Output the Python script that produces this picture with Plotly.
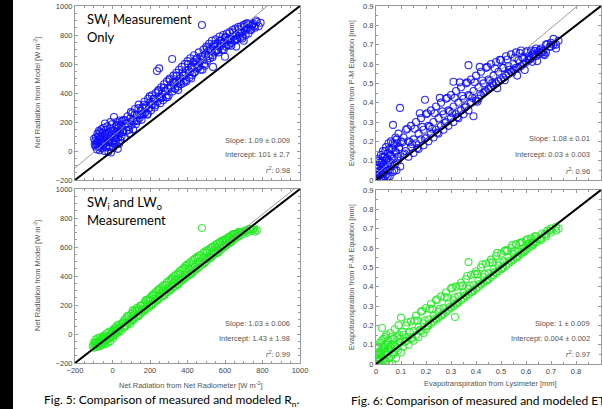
import plotly.graph_objects as go

W, H = 602, 409

# ---------------- data ----------------
# Panel A: Rn, SW_i measurement only (blue)
a_x = [-95,-92,-90,-88,-85,-82,-80,-78,-75,-72,-70,-68,-65,-62,-60,-58,-55,-52,-50,-48,
       -45,-42,-40,-38,-35,-32,-30,-28,-25,-22,-20,-18,-15,-12,-10,-8,-5,-2,0,3,
       5,8,10,12,15,18,20,22,25,28,30,33,35,38,40,42,45,48,
       55,60,65,70,75,80,85,90,95,100,105,110,115,120,125,130,135,140,145,150,
       155,160,165,170,175,180,185,190,195,200,205,210,215,220,225,230,
       237,240,245,249,
       250,255,260,265,270,275,280,285,290,295,300,305,310,
       318,
       320,325,330,335,340,345,350,355,360,365,370,375,380,385,390,395,400,405,410,415,
       420,425,430,435,440,445,450,455,460,465,470,
       477,
       480,485,490,495,500,505,510,515,520,525,530,535,540,545,550,555,560,565,570,575,
       580,585,590,595,600,605,610,615,620,625,630,635,640,645,650,655,660,665,670,675,
       680,685,690,695,700,705,710,715,720,725,730,
       740,750,760,770,780,790,
       536,600,660,700,480,420,350]
a_y = [45,70,30,95,55,10,120,65,35,140,80,5,100,50,150,20,85,125,40,160,
       70,0,110,55,145,25,90,170,60,-5,130,80,30,155,100,-10,60,185,120,20,
       90,234,140,45,110,170,65,200,130,15,95,160,50,210,125,75,180,100,
       130,215,95,190,140,240,165,120,225,180,260,150,205,290,185,250,210,320,230,280,
       215,300,255,340,265,310,250,360,295,335,280,385,320,360,300,400,
       552,340,420,570,
       375,330,440,395,350,460,410,370,480,430,385,500,450,
       634,
       410,520,470,430,540,485,445,560,500,460,580,520,470,600,540,490,620,560,505,640,
       575,525,610,660,545,600,640,570,680,615,560,
       869,
       650,700,600,665,720,625,690,740,640,705,760,660,720,680,770,700,740,680,790,725,
       760,700,800,745,780,720,810,760,730,820,770,745,835,790,760,845,800,770,855,810,
       780,860,820,790,870,830,800,880,845,810,870,
       835,880,850,890,860,885,
       580,650,720,760,560,500,420]
a_x_more = [-98,-86,-76,-66,-56,-46,-36,-26,-16,-6,4,14,24,34,44,-70,-40,-10,20,50,
            58,68,78,88,98,108,118,128,138,148,158,168,178,188,198,208,218,228,
            243,253,263,273,283,293,303,313,323,333,343,353,363,373,383,393,403,413,423,433,
            443,453,463,473,483,493,503,513,523,533,543,553,563,573,583,593,603,613,623,633,
            643,653,663,673,683,693,703,713,723,735,745,755,765]
a_y_more = [85,40,100,130,60,95,30,115,65,140,55,75,180,120,150,25,190,200,95,205,
            144,210,191,147,268,214,250,206,296,247,253,319,300,256,377,323,359,315,
            411,362,368,434,414,370,491,437,473,429,520,471,477,543,523,479,600,546,582,538,
            629,580,586,652,632,588,709,655,691,647,738,689,695,761,741,697,788,734,770,726,
            817,768,774,840,820,776,857,843,879,837,870,860,900]

# Panel B: Rn, SW_i and LW_o measurement (green)
b_x = [-105,-100,-98,-95,-92,-90,-88,-85,-82,-80,-78,-75,-72,-70,-68,-65,-62,-60,-58,-55,
       -52,-50,-48,-45,-42,-40,-38,-35,-32,-30,-28,-25,-22,-20,-18,-15,-12,-10,-8,-5,
       -2,0,3,5,8,10,12,15,18,20,22,25,28,30,33,35,38,40,45,48,
       55,60,65,70,75,80,85,90,95,100,105,110,115,120,125,130,135,140,145,150,
       155,160,165,170,175,180,185,190,195,200,205,210,215,220,225,230,235,240,245,250,
       255,260,265,270,275,280,285,290,295,300,305,310,315,320,325,330,335,340,345,350,
       355,360,365,370,375,380,385,390,395,400,405,410,415,420,425,430,435,440,445,450,
       455,460,465,470,
       477,
       480,485,490,495,500,505,510,515,520,525,530,535,540,545,550,555,560,565,570,575,
       580,585,590,595,600,605,610,615,620,625,630,635,640,645,650,655,660,665,670,675,680,
       690,700,710,720,730,740,750,760,770]
b_y = [-85,-60,-95,-70,-40,-80,-55,-90,-65,-30,-75,-50,-85,-60,-25,-70,-45,-80,-35,-55,
       -20,-65,-40,-10,-55,-30,-70,-15,-45,5,-35,-60,-10,-30,15,-25,-50,0,-20,20,
       -15,10,-30,25,0,40,-10,20,45,5,30,60,10,40,20,65,30,50,20,70,
       75,45,100,60,110,70,125,85,70,140,95,150,100,165,115,180,125,170,135,195,
       150,200,155,215,170,230,175,240,190,250,200,265,210,275,220,290,230,300,240,310,
       250,320,260,335,270,340,285,355,290,365,300,375,310,390,325,400,330,410,345,420,
       355,435,365,445,375,455,385,470,395,480,405,490,415,500,425,510,435,520,445,530,
       455,540,465,545,
       731,
       480,560,495,570,505,575,515,585,525,595,535,600,545,610,555,620,565,625,575,635,
       585,645,595,650,605,655,615,665,625,670,635,680,645,685,655,690,665,695,670,700,680,
       705,690,715,700,725,710,720,705,715]
b_x_more = [58,68,78,88,98,108,118,128,138,148,158,168,178,188,198,208,218,228,238,248,
            258,268,278,288,298,308,318,328,338,348,358,368,378,388,398,408,418,428,438,448,
            458,468,
            483,493,503,513,523,533,543,553,563,573,583,593,603,613,623,633,643,653,663,673,683,
            695,715,735,755]
b_y_more = [86,51,122,102,92,163,138,158,124,194,174,164,235,210,230,196,266,246,237,307,
            282,302,268,338,318,309,379,354,375,340,410,390,381,451,426,447,412,482,463,453,
            523,498,
            524,489,559,540,530,600,576,596,561,632,612,602,650,648,668,633,690,684,674,705,700,
            702,713,723,729]

# Panel C: ET, SW_i measurement only (blue)
c_x = [0.0,0.002,0.005,0.005,0.008,0.01,0.01,0.012,0.015,0.015,0.018,0.02,0.02,0.022,0.025,0.025,0.028,0.03,0.03,0.032,
       0.035,0.035,0.038,0.04,0.04,0.042,0.045,0.048,0.05,0.05,0.052,0.055,0.058,0.06,0.06,0.062,0.065,0.068,0.07,0.072,
       0.075,0.078,0.08,0.082,0.085,0.088,0.09,0.092,0.096,0.098,0.1,
       0.11,0.11,0.12,0.12,0.13,0.13,0.14,0.14,0.15,0.15,0.16,0.16,0.17,0.17,0.18,0.18,0.19,0.19,
       0.196,
       0.20,0.20,0.21,0.21,0.22,0.22,0.23,0.23,0.24,0.24,0.25,0.25,0.26,0.26,0.27,0.27,0.28,0.28,0.29,0.29,0.30,0.30,
       0.31,0.31,0.31,
       0.32,0.32,0.33,0.33,0.34,0.34,0.35,0.35,0.36,0.36,
       0.37,0.37,0.37,
       0.38,0.38,0.39,0.39,0.40,0.40,0.41,0.41,0.42,0.42,0.43,0.43,0.44,0.44,0.45,0.45,0.46,0.46,0.47,0.47,
       0.48,0.48,0.49,0.49,0.50,0.50,0.51,0.51,0.52,0.52,0.53,0.53,0.54,0.54,0.55,0.55,0.56,0.56,0.57,0.57,
       0.58,0.58,0.59,0.59,0.60,0.60,0.61,0.61,0.62,0.62,0.63,0.63,0.64,0.64,0.65,0.65,0.66,0.66,0.67,0.67,
       0.68,0.68,
       0.70,0.70,0.71,0.71,0.72,0.72,0.73]
c_y = [0.01,0.04,0.0,0.08,0.02,0.06,0.11,0.0,0.03,0.09,0.05,0.13,0.01,0.07,0.03,0.1,0.15,0.05,0.0,0.08,
       0.12,0.02,0.06,0.17,0.1,0.03,0.08,0.14,0.05,0.19,0.1,0.02,0.13,0.07,0.2,0.16,0.04,0.285,0.11,0.18,
       0.08,0.22,0.14,0.05,0.19,0.1,0.24,0.16,0.373,0.12,0.2,
       0.22,0.13,0.15,0.26,0.20,0.12,0.28,0.17,0.21,0.14,0.30,0.19,0.24,0.16,0.32,0.21,0.26,0.18,
       0.415,
       0.34,0.22,0.28,0.20,0.36,0.24,0.30,0.22,0.38,0.26,0.32,0.24,0.40,0.28,0.34,0.26,0.42,0.30,0.36,0.28,0.44,0.32,
       0.508,0.38,0.30,
       0.46,0.34,0.40,0.32,0.48,0.36,0.42,0.34,0.50,0.38,
       0.594,0.44,0.36,
       0.52,0.40,0.33,0.46,0.54,0.41,0.48,0.42,0.56,0.44,0.50,0.45,0.58,0.46,0.52,0.47,0.60,0.48,0.54,0.49,
       0.61,0.50,0.56,0.51,0.62,0.52,0.58,0.53,0.64,0.54,0.59,0.55,0.65,0.56,0.60,0.57,0.66,0.58,0.62,0.58,
       0.67,0.59,0.63,0.60,0.66,0.61,0.64,0.62,0.67,0.63,0.65,0.64,0.68,0.64,0.66,0.65,0.68,0.66,0.67,0.65,
       0.70,0.66,
       0.71,0.69,0.73,0.70,0.70,0.68,0.72]
c_x_more = [0.003,0.007,0.012,0.017,0.023,0.027,0.033,0.037,0.043,0.047,0.053,0.057,0.063,0.067,0.073,0.077,0.083,0.087,0.093,0.097,
            0.105,0.115,0.125,0.135,0.145,0.155,0.165,0.175,0.185,0.195,0.205,0.215,0.225,0.235,0.245,0.255,0.265,0.275,0.285,0.295,
            0.305,0.315,0.325,0.335,0.345,0.355,0.365,0.375,0.385,0.395,0.405,0.415,0.425,0.435,0.445,0.455,0.465,0.475,0.485,0.495,
            0.505,0.515,0.525,0.535,0.545,0.555,0.565,0.575,0.585,0.595,0.605,0.615,0.625,0.635,0.645,0.655,0.665,0.675,0.685,0.695]
c_y_more = [0.06,0.03,0.1,0.04,0.09,0.12,0.04,0.15,0.11,0.02,0.16,0.09,0.12,0.19,0.05,0.15,0.21,0.12,0.17,0.07,
            0.195,0.135,0.265,0.195,0.185,0.265,0.165,0.345,0.275,0.215,0.345,0.275,0.265,0.345,0.245,0.425,0.355,0.295,0.425,0.355,
            0.345,0.425,0.325,0.505,0.435,0.375,0.505,0.435,0.425,0.505,0.405,0.585,0.515,0.455,0.585,0.513,0.501,0.578,0.475,0.622,
            0.579,0.516,0.623,0.570,0.556,0.633,0.540,0.656,0.633,0.569,0.667,0.624,0.611,0.668,0.615,0.672,0.659,0.646,0.703,0.690]

# Panel D: ET, SW_i and LW_o measurement (green)
d_x = [0.0,0.003,0.005,0.006,0.008,0.01,0.012,0.014,0.016,0.018,0.02,0.022,0.024,0.025,0.028,0.03,0.032,0.035,0.038,0.04,
       0.042,0.045,0.048,0.05,0.052,0.055,0.058,0.06,0.062,0.065,0.07,0.072,0.075,0.078,0.08,0.085,0.088,0.09,0.095,0.1,0.1,
       0.11,0.11,0.12,0.12,0.13,0.13,0.14,0.14,0.15,0.15,0.16,0.16,0.17,0.17,0.18,0.18,0.19,0.19,0.20,0.20,
       0.21,0.21,0.22,0.22,0.23,0.23,0.24,0.24,0.25,0.25,0.26,0.26,0.27,0.27,0.28,0.28,0.29,0.29,0.30,0.30,0.31,0.31,
       0.316,
       0.32,0.32,0.33,0.33,0.34,0.34,0.35,0.35,0.36,0.36,
       0.37,0.37,0.37,
       0.38,0.38,0.39,0.39,0.40,0.40,0.41,0.41,0.42,0.42,0.43,0.43,0.44,0.44,0.45,0.45,0.46,0.46,0.47,0.47,
       0.48,0.48,0.49,0.49,0.50,0.50,0.51,0.51,0.52,0.52,0.53,0.53,0.54,0.54,0.55,0.55,0.56,0.56,0.57,0.57,
       0.58,0.58,0.59,0.59,0.60,0.60,0.61,0.61,0.62,0.62,0.63,0.63,0.64,0.64,
       0.66,0.66,0.68,0.68,0.70,0.70,0.72,0.72,0.73]
d_y = [0.0,0.03,0.06,0.01,0.09,0.03,0.0,0.05,0.11,0.02,0.07,0.0,0.186,0.04,0.09,0.13,0.02,0.06,0.1,0.01,
       0.15,0.05,0.08,0.12,0.03,0.07,0.16,0.04,0.1,0.0,0.13,0.06,0.18,0.09,0.03,0.14,0.07,0.2,0.11,0.24,0.06,
       0.15,0.09,0.20,0.12,0.14,0.10,0.22,0.13,0.17,0.12,0.25,0.15,0.19,0.14,0.27,0.17,0.21,0.16,0.29,0.18,
       0.23,0.20,0.31,0.21,0.25,0.22,0.33,0.23,0.27,0.24,0.35,0.25,0.29,0.26,0.37,0.27,0.31,0.28,0.39,0.29,0.33,0.30,
       0.243,
       0.40,0.31,0.35,0.32,0.42,0.33,0.37,0.34,0.44,0.35,
       0.527,0.39,0.36,
       0.46,0.37,0.41,0.38,0.48,0.39,0.43,0.40,0.50,0.41,0.45,0.42,0.52,0.43,0.47,0.44,0.54,0.45,0.49,0.46,
       0.56,0.47,0.51,0.48,0.57,0.49,0.53,0.50,0.59,0.51,0.55,0.52,0.60,0.53,0.57,0.54,0.62,0.55,0.58,0.56,
       0.63,0.57,0.60,0.58,0.64,0.59,0.62,0.60,0.65,0.61,0.63,0.62,0.66,0.63,
       0.65,0.64,0.67,0.66,0.70,0.68,0.69,0.71,0.70]
d_x_more = [0.004,0.009,0.013,0.019,0.023,0.027,0.033,0.037,0.043,0.047,0.053,0.057,0.063,0.068,0.073,0.083,0.093,0.097,
            0.105,0.115,0.125,0.135,0.145,0.155,0.165,0.175,0.185,0.195,0.205,0.215,0.225,0.235,0.245,0.255,0.265,0.275,0.285,0.295,
            0.305,0.315,0.325,0.335,0.345,0.355,0.365,0.375,0.385,0.395,0.405,0.415,0.425,0.435,0.445,0.455,0.465,0.475,0.485,0.495,
            0.505,0.515,0.525,0.535,0.545,0.555,0.565,0.575,0.585,0.595,0.605,0.615,0.625,0.635,0.645,0.655,0.665,0.675,0.685,0.695]
d_y_more = [0.05,0.08,0.02,0.06,0.12,0.03,0.08,0.14,0.06,0.1,0.0,0.09,0.14,0.05,0.1,0.08,0.15,0.13,
            0.165,0.115,0.215,0.165,0.135,0.225,0.225,0.175,0.275,0.225,0.195,0.285,0.285,0.235,0.335,0.285,0.255,0.345,0.345,0.295,
            0.395,0.345,0.315,0.405,0.405,0.355,0.455,0.405,0.375,0.465,0.465,0.415,0.515,0.465,0.435,0.525,0.525,0.475,0.575,0.525,
            0.495,0.585,0.585,0.535,0.615,0.585,0.555,0.625,0.630,0.585,0.645,0.625,0.612,0.660,0.648,0.645,0.675,0.672,0.690,0.690]

slopes = [1.09, 1.03, 1.08, 1.0]
intercepts = [101, 1.43, 0.03, 0.004]
slope_txt = ["Slope: 1.09 ± 0.009", "Slope: 1.03 ± 0.006", "Slope: 1.08 ± 0.01", "Slope: 1 ± 0.009"]
icpt_txt = ["Intercept: 101 ± 2.7", "Intercept: 1.43 ± 1.98", "Intercept: 0.03 ± 0.003", "Intercept: 0.004 ± 0.002"]
r2_txt = ["0.98", "0.99", "0.96", "0.97"]

rn_ticks = [-200, 0, 200, 400, 600, 800, 1000]
et_ticks = [0, 0.1, 0.2, 0.3, 0.4, 0.5, 0.6, 0.7, 0.8, 0.9]

BLUE = "rgba(10,10,255,0.85)"
GREEN = "rgba(30,235,30,0.85)"

# ---------------- layout geometry (pixels) ----------------
panels = [
    dict(x=a_x + a_x_more, y=a_y + a_y_more, col=BLUE, px=(75, 300), py=(6, 180), rng=(-200, 1000), ticks=rn_ticks, minor=50, xlab=False, sx=292),
    dict(x=b_x + b_x_more, y=b_y + b_y_more, col=GREEN, px=(75, 300), py=(189, 363), rng=(-200, 1000), ticks=rn_ticks, minor=50, xlab=True, sx=292),
    dict(x=c_x + c_x_more, y=c_y + c_y_more, col=BLUE, px=(376, 601), py=(6, 180), rng=(0, 0.9), ticks=et_ticks, minor=0.05, xlab=False, sx=592),
    dict(x=d_x + d_x_more, y=d_y + d_y_more, col=GREEN, px=(376, 601), py=(190, 364), rng=(0, 0.9), ticks=et_ticks, minor=0.05, xlab=True, sx=592),
]
stat_rows = [(140, 154, 170), (323, 338, 354), (138, 154, 171), (323, 338, 354)]

fig = go.Figure()
tickfont = dict(family="Liberation Sans, Arial, sans-serif", size=7.5, color="#444")
LINEC = "#9a9a9a"

annotations = []
for i, p in enumerate(panels):
    n = "" if i == 0 else str(i + 1)
    xa, ya = "x" + n, "y" + n
    fig.add_trace(go.Scatter(x=p["x"], y=p["y"], mode="markers", xaxis=xa, yaxis=ya,
                             marker=dict(symbol="circle-open", size=7, color=p["col"], line=dict(width=1.1))))
    lo, hi = p["rng"]
    fig.add_trace(go.Scatter(x=[lo, hi], y=[slopes[i] * lo + intercepts[i], slopes[i] * hi + intercepts[i]],
                             mode="lines", xaxis=xa, yaxis=ya, line=dict(color="#999999", width=1)))
    fig.add_trace(go.Scatter(x=[lo, hi], y=[lo, hi], mode="lines", xaxis=xa, yaxis=ya,
                             line=dict(color="black", width=2)))
    common = dict(range=[lo, hi], tickvals=p["ticks"], showline=True, mirror="allticks", linecolor=LINEC,
                  linewidth=1, ticks="inside", ticklen=3, tickcolor=LINEC, showgrid=False, zeroline=False,
                  automargin=False, tickfont=tickfont,
                  minor=dict(ticks="inside", ticklen=2, dtick=p["minor"], tickcolor=LINEC))
    fig.layout["xaxis" + n] = dict(common, domain=[p["px"][0] / W, p["px"][1] / W], anchor=ya,
                                   showticklabels=p["xlab"])
    fig.layout["yaxis" + n] = dict(common, domain=[1 - p["py"][1] / H, 1 - p["py"][0] / H], anchor=xa)
    rows = stat_rows[i]
    for txt, yy in zip([slope_txt[i], icpt_txt[i], "<i>r</i><sup>2</sup>: " + r2_txt[i]], rows):
        annotations.append(dict(text=txt, x=p["sx"] / W, y=1 - yy / H, xref="paper", yref="paper",
                                xanchor="right", yanchor="middle", showarrow=False,
                                font=dict(family="Liberation Sans, Arial, sans-serif", size=7.5, color="#555")))

# axis titles
ytit_font = dict(family="Liberation Sans, Arial, sans-serif", size=7.5, color="#555")
for (xx, yy, txt) in [(37, 93, "Net Radiation from Model [W m<sup>-2</sup>]"),
                      (37, 276, "Net Radiation from Model [W m<sup>-2</sup>]"),
                      (351, 93, "Evapotranspiration from P-M Equation [mm]"),
                      (351, 277, "Evapotranspiration from P-M Equation [mm]")]:
    annotations.append(dict(text=txt, x=xx / W, y=1 - yy / H, xref="paper", yref="paper", textangle=-90,
                            xanchor="center", yanchor="middle", showarrow=False, font=ytit_font))
for (xx, yy, txt) in [(190, 385, "Net Radiation from Net Radiometer [W m<sup>-2</sup>]"),
                      (490, 383, "Evapotranspiration from Lysimeter [mm]")]:
    annotations.append(dict(text=txt, x=xx / W, y=1 - yy / H, xref="paper", yref="paper",
                            xanchor="center", yanchor="middle", showarrow=False, font=ytit_font))

# in-panel labels
lab_font = dict(family="Lato, Open Sans, sans-serif", size=13, color="black")
for (xx, yy, txt) in [(85, 20, "SW<sub>i</sub> Measurement"), (85, 37, "Only"),
                      (85, 203, "SW<sub>i</sub> and LW<sub>o</sub>"), (85, 220, "Measurement")]:
    annotations.append(dict(text=txt, x=xx / W, y=1 - yy / H, xref="paper", yref="paper",
                            xanchor="left", yanchor="middle", showarrow=False, font=lab_font))

# captions
cap_font = dict(family="Lato, Open Sans, sans-serif", size=12, color="black")
for (xx, txt) in [(42, "Fig. 5: Comparison of measured and modeled R<sub>n</sub>."),
                  (349, "Fig. 6: Comparison of measured and modeled ET")]:
    annotations.append(dict(text=txt, x=xx / W, y=1 - 400 / H, xref="paper", yref="paper",
                            xanchor="left", yanchor="middle", showarrow=False, font=cap_font))

fig.update_layout(width=W, height=H, margin=dict(l=0, r=0, t=0, b=0), paper_bgcolor="white",
                  plot_bgcolor="white", showlegend=False, annotations=annotations,
                  shapes=[dict(type="rect", xref="paper", yref="paper", x0=0, x1=13 / W, y0=0, y1=1,
                               fillcolor="black", line=dict(width=0))])

fig.write_html("out.html", config={"displayModeBar": False},
               post_script="document.body.style.margin='0px';document.body.style.overflow='hidden';")
